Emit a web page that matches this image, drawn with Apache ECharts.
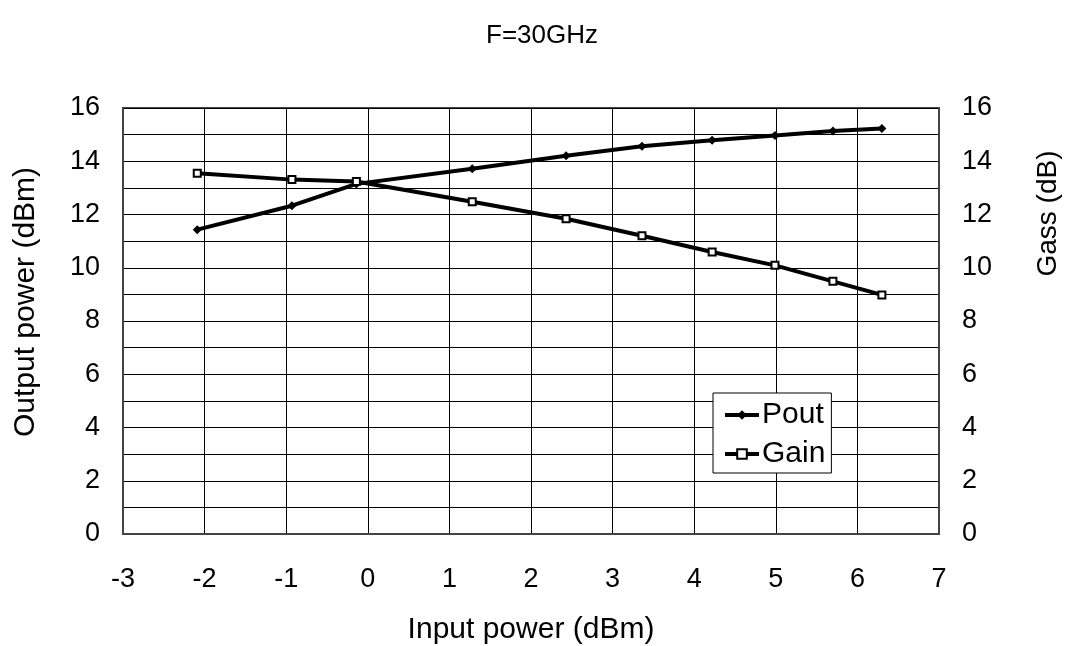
<!DOCTYPE html>
<html>
<head>
<meta charset="utf-8">
<script src="https://cdn.jsdelivr.net/npm/echarts@6/dist/echarts.min.js"></script>
<style>
  html, body { margin: 0; padding: 0; background: #fff; }
  #main { width: 1071px; height: 646px; }
</style>
</head>
<body>
<div id="main"></div>
<script>
// input power (dBm)
var inputPower = [-2.09, -0.93, -0.14, 1.28, 2.43, 3.36, 4.22, 4.99, 5.70, 6.30];
// output power (dBm)
var pout = [11.43, 12.33, 13.15, 13.72, 14.21, 14.56, 14.79, 14.97, 15.14, 15.23];
// gain (dB)
var gain = [13.55, 13.31, 13.24, 12.48, 11.84, 11.20, 10.59, 10.09, 9.49, 8.98];

function pairs(xs, ys) {
    var out = [];
    for (var i = 0; i < xs.length; i++) out.push([xs[i], ys[i]]);
    return out;
}

var font = 'Liberation Sans, Arial, sans-serif';
var myChart = echarts.init(document.getElementById('main'));

var yAxisBase = {
    type: 'value',
    min: 0,
    max: 16,
    interval: 2,
    nameLocation: 'middle',
    nameRotate: 90,
    axisLine: { show: true, onZero: false, lineStyle: { color: '#444', width: 2 } },
    axisTick: { show: false },
    axisLabel: { color: '#000', fontSize: 27, fontFamily: font, margin: 23 },
    splitLine: { show: true, lineStyle: { color: '#000', width: 1 } },
    minorTick: { show: false, splitNumber: 2 },
    minorSplitLine: { show: true, lineStyle: { color: '#000', width: 1 } }
};

var option = {
    backgroundColor: '#fff',
    animation: false,
    title: {
        text: 'F=30GHz',
        left: 537,
        textAlign: 'center',
        top: 18,
        textStyle: { color: '#000', fontSize: 26, fontWeight: 'normal', fontFamily: font }
    },
    grid: {
        left: 123, right: 132, top: 108, bottom: 112,
        outerBoundsMode: 'none',
        show: true, borderColor: '#444', borderWidth: 2
    },
    legend: {
        orient: 'vertical',
        left: 713,
        top: 393,
        backgroundColor: '#fff',
        borderColor: '#000',
        borderWidth: 1,
        borderRadius: 0,
        padding: [7, 6, 4, 10],
        itemGap: 9,
        itemWidth: 34,
        itemHeight: 12,
        lineStyle: { width: 4 },
        textStyle: { color: '#000', fontSize: 30, fontFamily: font, padding: [0, 0, 0, -2] },
        data: ['Pout', 'Gain']
    },
    xAxis: {
        type: 'value',
        min: -3,
        max: 7,
        interval: 1,
        name: 'Input power (dBm)',
        nameLocation: 'middle',
        nameGap: 81,
        nameTextStyle: { color: '#000', fontSize: 30, fontFamily: font },
        axisLine: { show: true, onZero: false, lineStyle: { color: '#444', width: 2 } },
        axisTick: { show: false },
        axisLabel: { color: '#000', fontSize: 27, fontFamily: font, margin: 32 },
        splitLine: { show: true, lineStyle: { color: '#000', width: 1 } }
    },
    yAxis: [
        Object.assign({}, yAxisBase, {
            position: 'left',
            name: 'Output power (dBm)',
            nameGap: 82,
            nameTextStyle: { color: '#000', fontSize: 30, fontFamily: font, padding: [0, 0, 0, 38] }
        }),
        Object.assign({}, yAxisBase, {
            position: 'right',
            name: 'Gass (dB)',
            nameGap: 95,
            nameTextStyle: { color: '#000', fontSize: 28, fontFamily: font, padding: [0, 0, 0, 215] }
        })
    ],
    series: [
        {
            name: 'Pout',
            type: 'line',
            yAxisIndex: 0,
            symbol: 'diamond',
            symbolSize: 9,
            lineStyle: { color: '#000', width: 4 },
            itemStyle: { color: '#000' },
            data: pairs(inputPower, pout)
        },
        {
            name: 'Gain',
            type: 'line',
            yAxisIndex: 1,
            symbol: 'emptyRect',
            symbolSize: 7,
            lineStyle: { color: '#000', width: 4 },
            itemStyle: { color: '#000', borderColor: '#000', borderWidth: 2 },
            data: pairs(inputPower, gain)
        }
    ]
};

myChart.setOption(option);
window.addEventListener("resize", function () {
    myChart.resize();
});
</script>
</body>
</html>
